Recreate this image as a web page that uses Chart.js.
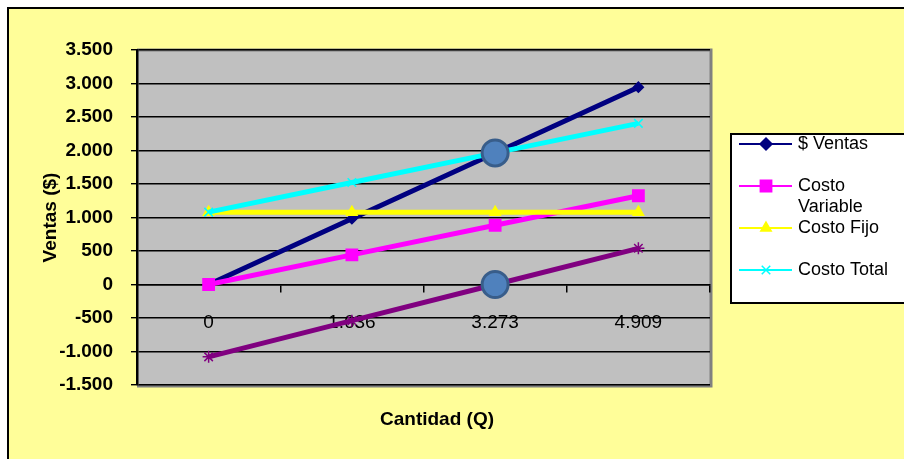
<!DOCTYPE html>
<html>
<head>
<meta charset="utf-8">
<script src="https://cdn.jsdelivr.net/npm/chart.js@4"></script>
<style>
  html, body { margin: 0; padding: 0; background: #fff; }
  #wrap { width: 904px; height: 459px; }
</style>
</head>
<body>
<div id="wrap"><canvas id="grafico" width="904" height="459"></canvas></div>
<script>
// datos del punto de equilibrio
const cantidades = ['0', '1.636', '3.273', '4.909'];
const ventas = [0, 982, 1964, 2945];
const costoVariable = [0, 442, 884, 1325];
const costoFijo = [1080, 1080, 1080, 1080];
const costoTotal = [1080, 1522, 1964, 2405];
const utilidad = [-1080, -540, 0, 540];
const equilibrioVentas = [null, null, 1964, null];
const equilibrioUtilidad = [null, null, 0, null];
const yMin = -1500;
const yMax = 3500;
const yPaso = 500;

// 3500 -> "3.500"
function formato(v) {
	const s = Math.abs(v).toString().replace(/\B(?=(\d{3})+(?!\d))/g, '.');
	return (v < 0 ? '-' : '') + s;
}

function serie(label, data, color, estilo, radio, i) {
	return {
		label: label,
		data: data,
		borderColor: color,
		backgroundColor: color,
		pointBorderColor: color,
		pointBackgroundColor: color,
		borderWidth: 5,
		pointStyle: estilo,
		pointRadius: radio,
		pointBorderWidth: 1.5,
		tension: 0,
		order: -i,
		enLeyenda: true
	};
}

function circulo(data, i) {
	return {
		label: '',
		data: data,
		showLine: false,
		pointRadius: 13,
		pointBorderWidth: 3,
		pointBackgroundColor: '#4F81BD',
		pointBorderColor: '#385D8A',
		order: -i,
		enLeyenda: false
	};
}

const fondo = {
	id: 'fondo',
	beforeDraw(chart) {
		const ctx = chart.ctx;
		const a = chart.chartArea;
		ctx.save();
		ctx.fillStyle = '#ffffff';
		ctx.fillRect(0, 0, chart.width, chart.height);
		ctx.fillStyle = '#FFFE99';
		ctx.fillRect(7, 7, chart.width - 7, chart.height - 7);
		ctx.strokeStyle = '#000';
		ctx.lineWidth = 2;
		ctx.beginPath();
		ctx.moveTo(8, chart.height);
		ctx.lineTo(8, 8);
		ctx.lineTo(chart.width, 8);
		ctx.stroke();
		// area de trazado
		ctx.fillStyle = '#C0C0C0';
		ctx.fillRect(a.left, a.top, a.right - a.left, a.bottom - a.top);
		ctx.strokeStyle = '#808080';
		ctx.lineWidth = 3;
		ctx.beginPath();
		ctx.moveTo(a.left, a.top);
		ctx.lineTo(a.right + 1, a.top);
		ctx.lineTo(a.right + 1, a.bottom + 1);
		ctx.lineTo(a.left, a.bottom + 1);
		ctx.stroke();
		ctx.restore();
	}
};

const leyenda = {
	id: 'leyenda',
	afterDraw(chart) {
		const ctx = chart.ctx;
		ctx.save();
		ctx.fillStyle = '#ffffff';
		ctx.fillRect(730, 133, 180, 170);
		ctx.strokeStyle = '#000';
		ctx.lineWidth = 2;
		ctx.strokeRect(731, 134, 180, 169);

		ctx.font = '18px "Liberation Sans", Arial, sans-serif';
		ctx.textBaseline = 'middle';
		ctx.textAlign = 'left';
		let k = 0;
		chart.data.datasets.forEach(function(ds) {
			if (!ds.enLeyenda) return;
			const y = 144 + 42 * k;
			ctx.strokeStyle = ds.borderColor;
			ctx.fillStyle = ds.borderColor;
			ctx.lineWidth = 2;
			ctx.beginPath();
			ctx.moveTo(739, y);
			ctx.lineTo(792, y);
			ctx.stroke();
			ctx.lineWidth = 1.5;
			Chart.helpers.drawPoint(ctx, {
				pointStyle: ds.pointStyle,
				radius: ds.pointStyle === 'rect' ? 8 : 6,
				rotation: 0,
				borderWidth: 1.5
			}, 766, y);
			ctx.fillStyle = '#000';
			// partir en dos lineas si no cabe
			if (ctx.measureText(ds.label).width > 104) {
				const partes = ds.label.split(' ');
				ctx.fillText(partes[0], 798, y);
				ctx.fillText(partes.slice(1).join(' '), 798, y + 21);
			} else {
				ctx.fillText(ds.label, 798, y);
			}
			k++;
		});

		// titulo del eje x
		ctx.font = 'bold 19px "Liberation Sans", Arial, sans-serif';
		ctx.textAlign = 'center';
		ctx.fillText('Cantidad (Q)', 437, 420);
		ctx.restore();
	}
};

const ctx = document.getElementById('grafico').getContext('2d');
new Chart(ctx, {
	type: 'line',
	data: {
		labels: cantidades,
		datasets: [
			serie('$ Ventas', ventas, '#000080', 'rectRot', 5, 0),
			serie('Costo Variable', costoVariable, '#FF00FF', 'rect', 8, 1),
			serie('Costo Fijo', costoFijo, '#FFFF00', 'triangle', 6, 2),
			serie('Costo Total', costoTotal, '#00FFFF', 'crossRot', 6, 3),
			Object.assign(serie('Utilidad', utilidad, '#800080', 'star', 6, 4), { enLeyenda: false }),
			circulo(equilibrioVentas, 5),
			circulo(equilibrioUtilidad, 6)
		]
	},
	options: {
		responsive: false,
		animation: false,
		devicePixelRatio: 1,
		layout: { padding: { left: 0, top: 50, right: 194, bottom: 74 } },
		plugins: {
			legend: { display: false },
			tooltip: { enabled: false }
		},
		scales: {
			x: {
				type: 'category',
				offset: true,
				position: { y: 0 },
				grid: {
					offset: true,
					drawOnChartArea: false,
					tickLength: 7,
					color: '#000',
					lineWidth: 1.5
				},
				border: { display: true, color: '#000', width: 1.5 },
				ticks: {
					color: '#000',
					padding: 20,
					maxRotation: 0,
					autoSkip: false,
					font: { family: '"Liberation Sans", Arial, sans-serif', size: 19 }
				}
			},
			y: {
				min: yMin,
				max: yMax,
				afterFit(scale) { scale.width = 137; },
				grid: {
					color: '#000',
					lineWidth: 1.4,
					tickLength: 6
				},
				border: { display: true, color: '#000', width: 2.5 },
				ticks: {
					stepSize: yPaso,
					color: '#000',
					padding: 18,
					callback: function(v) { return formato(v); },
					font: { family: '"Liberation Sans", Arial, sans-serif', size: 19, weight: 'bold' }
				},
				title: {
					display: true,
					text: 'Ventas ($)',
					color: '#000',
					padding: { top: 39, bottom: 0 },
					font: { family: '"Liberation Sans", Arial, sans-serif', size: 19, weight: 'bold' }
				}
			}
		}
	},
	plugins: [fondo, leyenda]
});
</script>
</body>
</html>
